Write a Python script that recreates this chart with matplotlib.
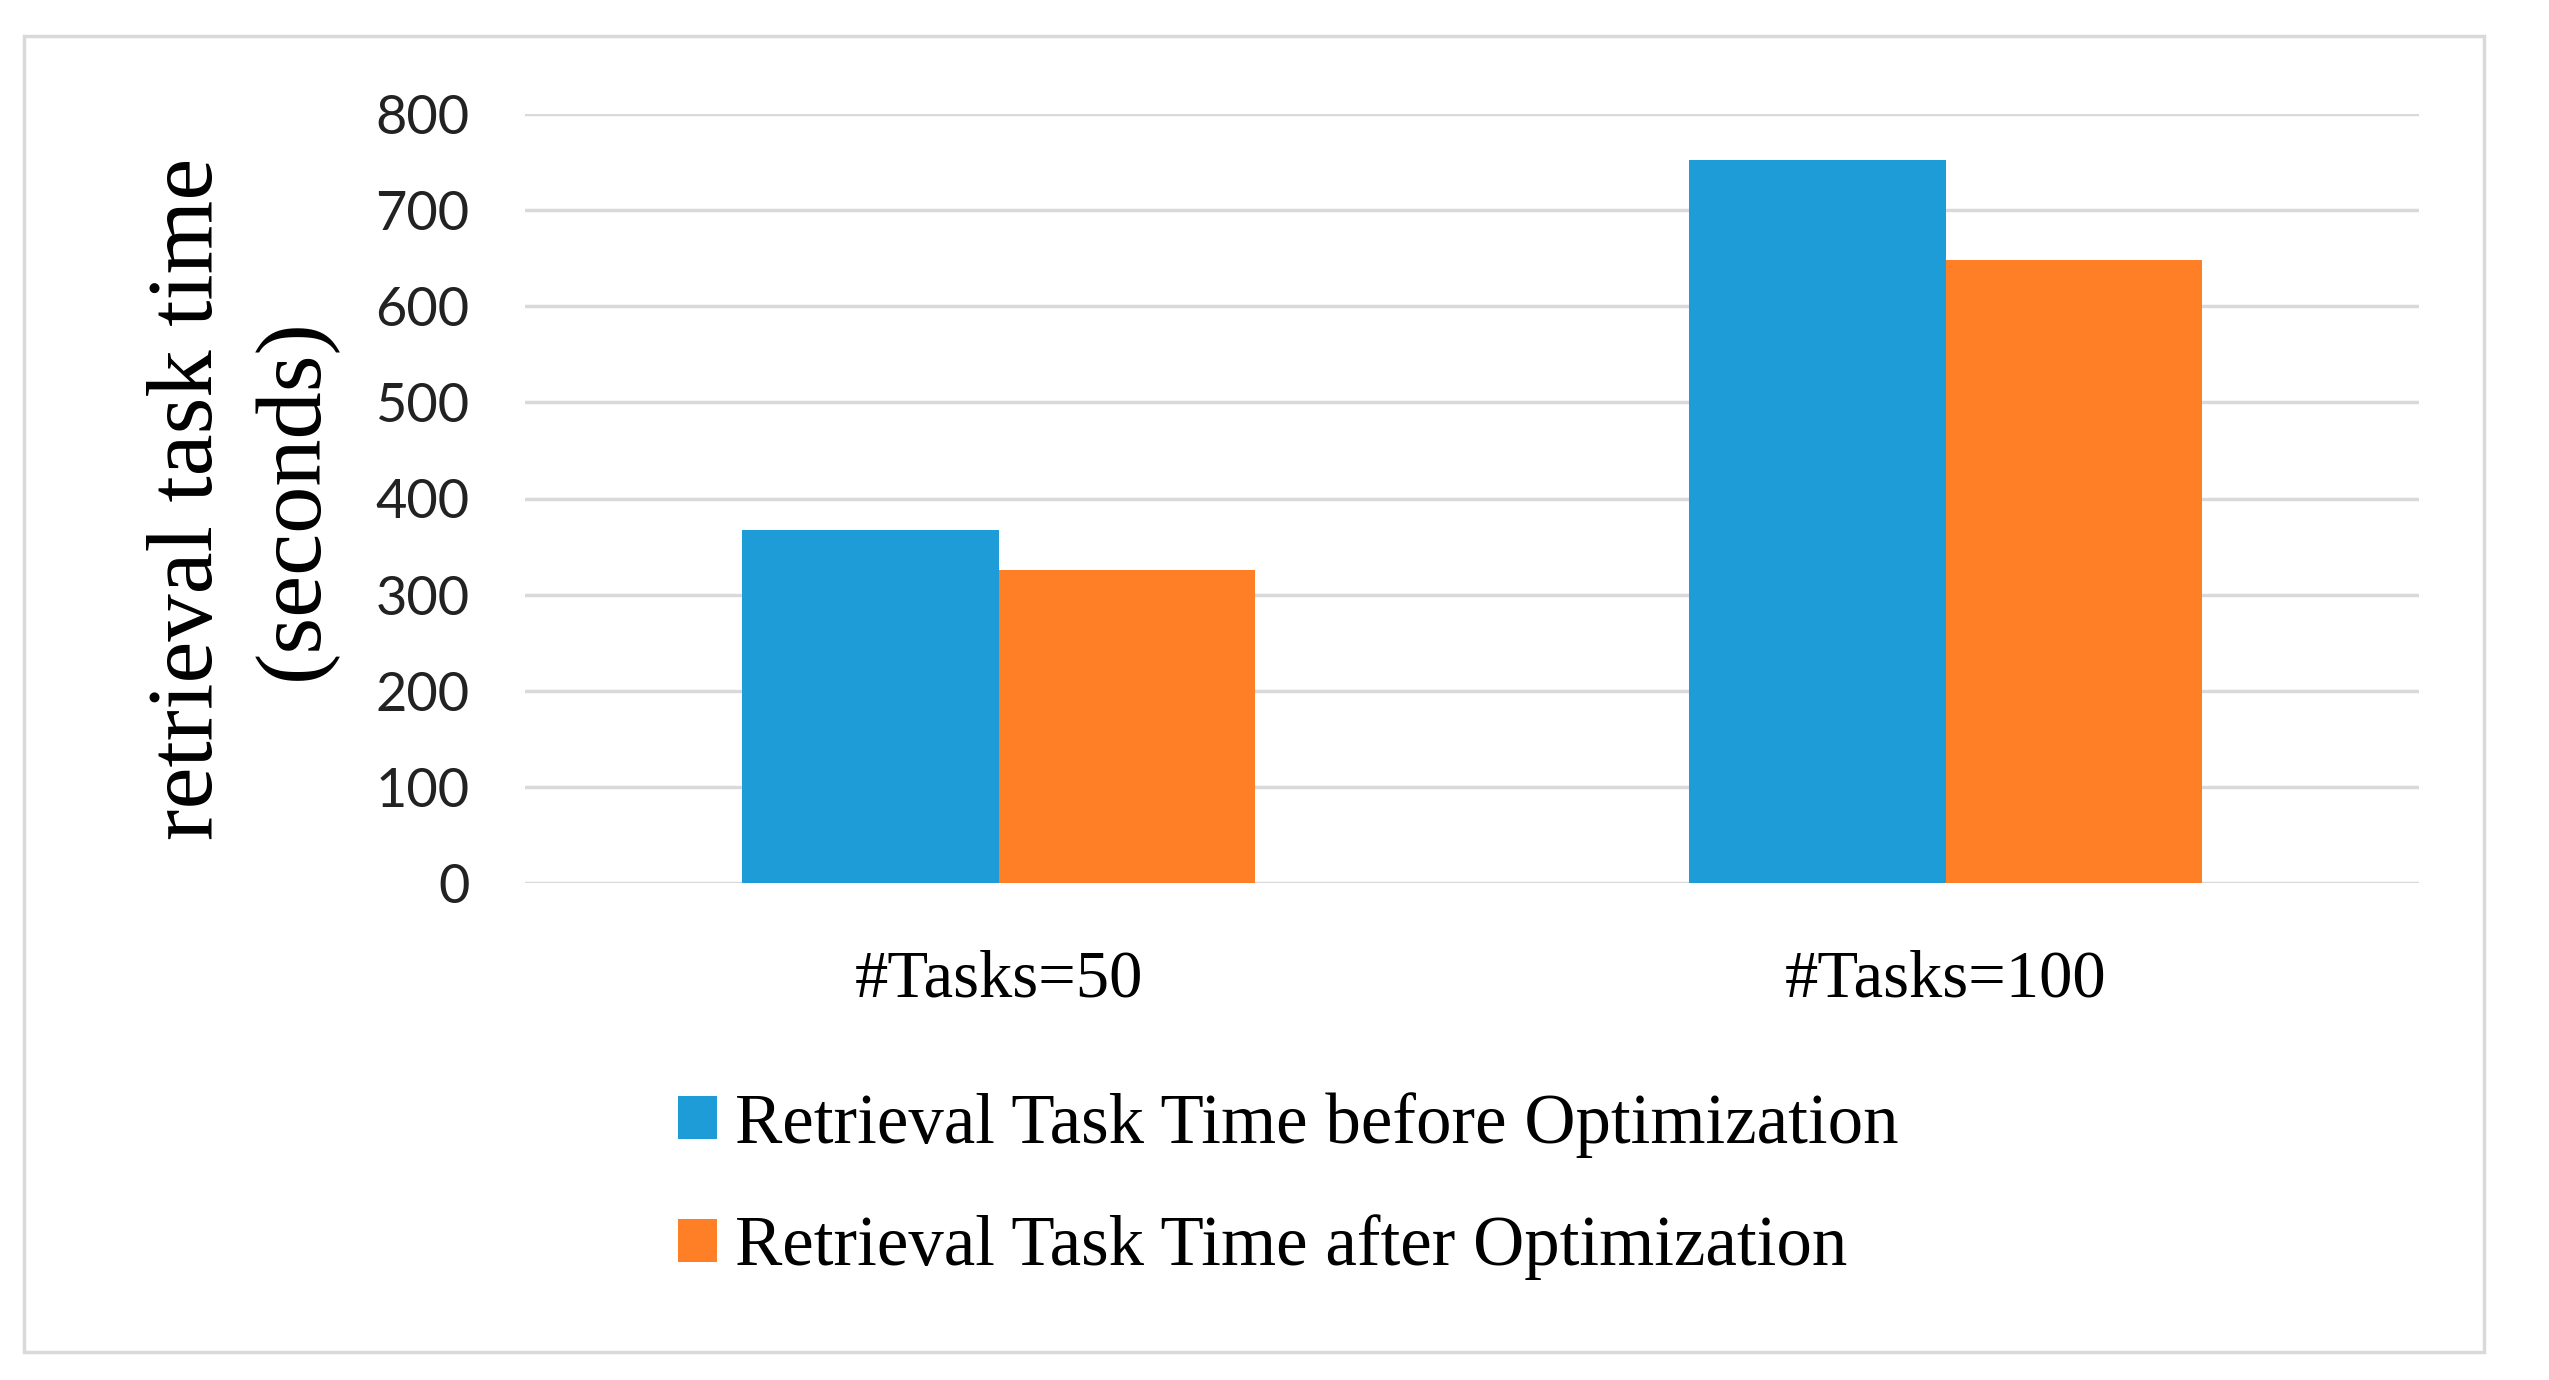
import numpy as np
import matplotlib
matplotlib.use("Agg")
import matplotlib.pyplot as plt
from matplotlib.patches import Rectangle

categories = ["#Tasks=50", "#Tasks=100"]
before_opt = [367, 752]
after_opt = [326, 648]
series_names = ["Retrieval Task Time before Optimization",
                "Retrieval Task Time after Optimization"]
y_ticks = [0, 100, 200, 300, 400, 500, 600, 700, 800]

blue = "#1E9CD8"
orange = "#FF7F27"
grid_c = "#D9D9D9"
serif = "Liberation Serif"
sans = "Lato"

W, H = 2549, 1380
fig = plt.figure(figsize=(W / 100, H / 100), dpi=100)
fig.patch.set_facecolor("white")

# outer frame of the chart area
fig.patches.append(Rectangle((24 / W, 1 - 1352 / H), (2484 - 24) / W, (1352 - 36) / H,
                             transform=fig.transFigure, fill=False,
                             edgecolor=grid_c, linewidth=2.5))

ax = fig.add_axes([525 / W, 1 - 883 / H, (2419 - 525) / W, (883 - 114) / H])
x = np.arange(len(categories))
w = 0.271
b1 = ax.bar(x - w / 2, before_opt, width=w, color=blue, zorder=3, label=series_names[0])
b2 = ax.bar(x + w / 2, after_opt, width=w, color=orange, zorder=3, label=series_names[1])

ax.set_xlim(-0.5, 1.5)
ax.set_ylim(0, 800)
ax.set_yticks(y_ticks)
ax.set_yticklabels([str(v) for v in y_ticks], fontsize=39, family=sans, color="#222222")
ax.set_xticks(x)
ax.set_xticklabels(categories, fontsize=48, family=serif)
ax.tick_params(axis="y", length=0, pad=40)
ax.tick_params(axis="x", length=0, pad=48)
ax.yaxis.grid(True, color=grid_c, linewidth=2.5, zorder=0)
ax.set_axisbelow(True)
for s in ax.spines.values():
    s.set_visible(False)

fig.text(242 / W, 1 - 499 / H, "retrieval task time\n(seconds)", rotation=90,
         ha="center", va="center", fontsize=68, family=serif, linespacing=1.3)

leg = fig.legend(handles=[b1, b2], labels=series_names, loc="upper left",
                 bbox_to_anchor=(678 / W, 1 - 1092 / H), frameon=False,
                 prop={"family": serif, "size": 51}, handlelength=0.55,
                 handleheight=0.55, handletextpad=0.25, labelspacing=0.8,
                 borderaxespad=0, borderpad=0)

fig.savefig("out.png", dpi=100)
